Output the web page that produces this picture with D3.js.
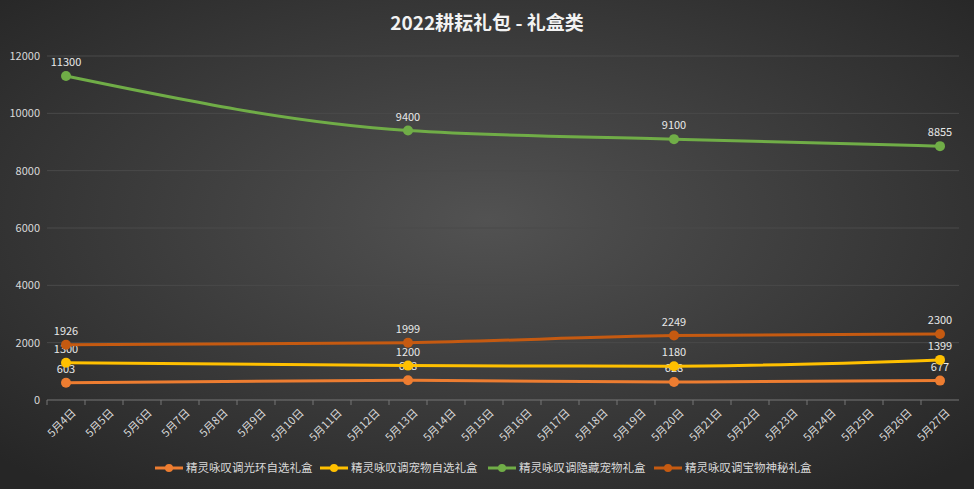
<!DOCTYPE html><html><head><meta charset="utf-8"><script src="https://cdn.jsdelivr.net/npm/d3@7"></script>
<style>body{margin:0;background:#333}</style></head><body><svg id="c" width="974" height="489"></svg><script>
const days=[];for(let d=4;d<=27;d++)days.push("5月"+d+"日");
const pointDays=["5月4日","5月13日","5月20日","5月27日"];
const names=["精灵咏叹调光环自选礼盒","精灵咏叹调宠物自选礼盒","精灵咏叹调隐藏宠物礼盒","精灵咏叹调宝物神秘礼盒"];
const halo=[603,688,628,677];
const pet=[1300,1200,1180,1399];
const hidden=[11300,9400,9100,8855];
const treasure=[1926,1999,2249,2300];
const yTicks=[0,2000,4000,6000,8000,10000,12000];
const colors=["#ed7d31","#ffc000","#70ad47","#c55a11"];
const series=[halo,pet,hidden,treasure];
const svg=d3.select("#c");
const defs=svg.append("defs");
const g=defs.append("radialGradient").attr("id","bg").attr("cx","50%").attr("cy","45%").attr("r","70%");
g.append("stop").attr("offset","0%").attr("stop-color","#525252");
g.append("stop").attr("offset","100%").attr("stop-color","#262626");
svg.append("rect").attr("width",974).attr("height",489).attr("fill","url(#bg)");
const font="'Noto Sans CJK SC','Noto Sans',sans-serif";
svg.append("text").attr("x",487).attr("y",30).attr("text-anchor","middle").attr("fill","#f2f2f2").attr("font-size",19).attr("font-weight","bold").attr("font-family",font).text("2022耕耘礼包 - 礼盒类");
const x=d3.scaleBand().domain(days).range([47,959]);
const y=d3.scaleLinear().domain([0,12000]).range([400,56]);
yTicks.forEach(t=>{
 svg.append("line").attr("x1",47).attr("x2",959).attr("y1",y(t)).attr("y2",y(t)).attr("stroke",t===0?"#777":"#4a4a4a").attr("stroke-width",1);
 svg.append("text").attr("x",40).attr("y",y(t)+4).attr("text-anchor","end").attr("fill","#d9d9d9").attr("font-size",11).attr("font-family",font).text(t);
});
days.forEach((d,i)=>{
 const xt=x(d);
 svg.append("line").attr("x1",xt).attr("x2",xt).attr("y1",400).attr("y2",405).attr("stroke","#777");
 const cx=xt+x.bandwidth()/2;
 svg.append("text").attr("transform",`translate(${cx+5},${408}) rotate(-45)`).attr("text-anchor","end").attr("dy","0.7em").attr("fill","#d9d9d9").attr("font-size",11).attr("font-family",font).text(d);
});
const cx=d=>x(d)+x.bandwidth()/2;
const line=d3.line().x(d=>cx(d[0])).y(d=>y(d[1])).curve(d3.curveMonotoneX);
series.forEach((s,k)=>{
 const pts=pointDays.map((d,i)=>[d,s[i]]);
 svg.append("path").attr("d",line(pts)).attr("fill","none").attr("stroke",colors[k]).attr("stroke-width",3).attr("stroke-linecap","round");
 pts.forEach(p=>{
  svg.append("circle").attr("cx",cx(p[0])).attr("cy",y(p[1])).attr("r",5).attr("fill",colors[k]);
  svg.append("text").attr("x",cx(p[0])).attr("y",y(p[1])-10).attr("text-anchor","middle").attr("fill","#e8e8e8").attr("font-size",11).attr("font-family",font).text(p[1]);
 });
});
const lx=[155,320,488,654];
names.forEach((n,k)=>{
 const lg=svg.append("g").attr("transform",`translate(${lx[k]},468)`);
 lg.append("line").attr("x1",0).attr("x2",28).attr("stroke",colors[k]).attr("stroke-width",3);
 lg.append("circle").attr("cx",14).attr("r",4).attr("fill",colors[k]);
 lg.append("text").attr("x",31).attr("y",4).attr("fill","#d9d9d9").attr("font-size",11.5).attr("font-family",font).text(n);
});
</script></body></html>
